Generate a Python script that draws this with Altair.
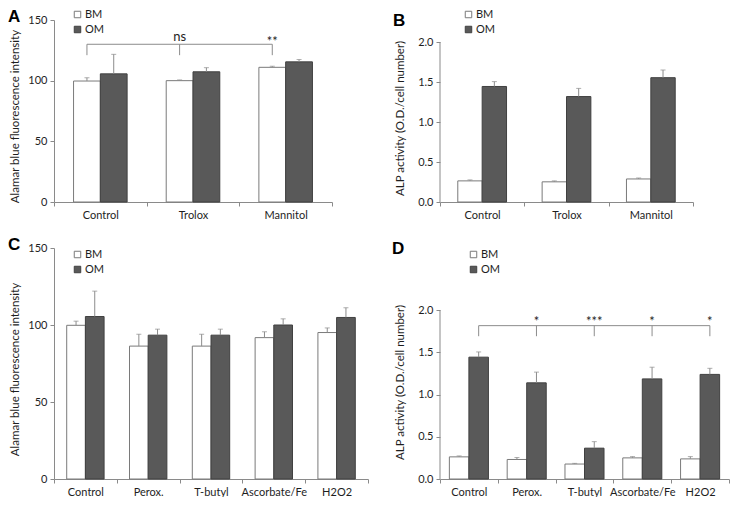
import altair as alt
import pandas as pd

# ---------------- data ----------------
cats_ab = ["Control", "Trolox", "Mannitol"]
cats_cd = ["Control", "Perox.", "T-butyl", "Ascorbate/Fe", "H2O2"]
groups = ["BM", "OM"]

a_bm = [99.7, 100.0, 111.0]
a_bm_err = [2.7, 0.6, 0.9]
a_om = [105.6, 107.3, 115.5]
a_om_err = [16.1, 3.4, 1.9]

b_bm = [0.264, 0.252, 0.288]
b_bm_err = [0.012, 0.012, 0.012]
b_om = [1.444, 1.318, 1.554]
b_om_err = [0.061, 0.102, 0.096]

c_bm = [99.8, 86.3, 86.3, 91.8, 95.1]
c_bm_err = [2.7, 7.7, 7.7, 3.8, 3.0]
c_om = [105.5, 93.4, 93.4, 100.0, 104.9]
c_om_err = [16.5, 3.9, 3.9, 4.0, 6.3]

d_bm = [0.262, 0.231, 0.177, 0.250, 0.238]
d_bm_err = [0.011, 0.023, 0.008, 0.015, 0.027]
d_om = [1.442, 1.138, 0.365, 1.185, 1.238]
d_om_err = [0.062, 0.127, 0.077, 0.138, 0.072]

a_sig_labels = ["", "ns", "**"]
a_sig_text_y = [0, 136, 132]
d_sig_labels = ["", "*", "***", "*", "*"]
d_sig_text_y = [0, 1.86, 1.86, 1.86, 1.86]

FONT = "Lato"
AX = "#8a8a8a"
ERR = "#8c8c8c"
TXT = "#1e1e1e"


def center_frac(pad, i):
    return (pad + i + 0.5) / (2 + 2 * pad)


def panel(cats, bm, bm_err, om, om_err, *, ymax, yvals, yfmt, ytitle, w, h,
          pad, title_x, title_y, leg_x, leg_y, letter, let_x, let_y,
          sig_labels=None, sig_text_y=None, sig_grp="BM", sig_level=0, sig_foot=0,
          axis_top=None):
    rows = []
    for g, vals, errs in (("BM", bm, bm_err), ("OM", om, om_err)):
        for c, v, e in zip(cats, vals, errs):
            rows.append({"cat": c, "grp": g, "val": v, "top": v + e})
    df = pd.DataFrame(rows)

    xscale = alt.Scale(domain=cats, paddingInner=0, paddingOuter=0)
    xaxis = alt.Axis(title=None, labelAngle=0, tickBand="extent")

    def X(bp=None):
        if bp is None:
            return alt.X("cat:N", scale=xscale, axis=xaxis)
        return alt.X("cat:N", scale=xscale, axis=xaxis, bandPosition=bp)

    yscale = alt.Scale(domain=[0, ymax], nice=False, zero=True)
    yaxis = alt.Axis(values=yvals, format=yfmt, title=ytitle, grid=False,
                     domain=axis_top is None, titleX=title_x, titleY=title_y,
                     titleAngle=270, titleBaseline="middle", titleAlign="center")

    def Y(f):
        return alt.Y(f + ":Q", scale=yscale, axis=yaxis)

    xo = alt.XOffset("grp:N", scale=alt.Scale(domain=groups, paddingInner=0, paddingOuter=pad))
    leg = alt.Legend(title=None, orient="none", legendX=leg_x, legendY=leg_y,
                     direction="vertical", symbolType="square", symbolSize=42,
                     symbolStrokeWidth=1, labelFont=FONT, labelFontSize=11,
                     labelColor=TXT, rowPadding=3, padding=0, labelOffset=2)

    bars = alt.Chart(df).mark_bar(strokeWidth=1).encode(
        x=X(), xOffset=xo, y=Y("val"),
        fill=alt.Fill("grp:N", scale=alt.Scale(domain=groups, range=["#ffffff", "#595959"]), legend=leg),
        stroke=alt.Stroke("grp:N", scale=alt.Scale(domain=groups, range=["#7a7a7a", "#404040"]), legend=leg),
    )
    err = alt.Chart(df).mark_rule(color=ERR, strokeWidth=1).encode(
        x=X(), xOffset=xo, y=Y("val"), y2="top:Q")
    cap = alt.Chart(df).mark_tick(color=ERR, size=5, thickness=1).encode(
        x=X(), xOffset=xo, y=Y("top"))

    layers = [bars, err, cap]

    if sig_labels is not None:
        gi = groups.index(sig_grp)
        bp = center_frac(pad, gi)
        sig = pd.DataFrame({"cat": cats, "label": sig_labels, "ty": sig_text_y,
                            "level": [sig_level] * len(cats), "foot": [sig_foot] * len(cats)})
        hline = alt.Chart(sig.iloc[[0, len(sig) - 1]]).mark_line(color=ERR, strokeWidth=1).encode(
            x=X(bp), y=Y("level"))
        feet = alt.Chart(sig).mark_rule(color=ERR, strokeWidth=1).encode(
            x=X(bp), y=Y("foot"), y2="level:Q")
        stext = alt.Chart(sig[sig["label"] != ""]).mark_text(
            baseline="middle", align="center", font=FONT, fontSize=13, color=TXT).encode(
            x=X(bp), y=Y("ty"), text="label:N")
        layers += [hline, feet, stext]

    lt = alt.Chart(pd.DataFrame({"t": [letter]})).mark_text(
        align="left", baseline="alphabetic", font="Liberation Sans", fontWeight="bold",
        fontSize=17, color="#000000").encode(
        text="t:N", x=alt.value(let_x), y=alt.value(let_y))
    layers.append(lt)

    if axis_top is not None:
        axdf = pd.DataFrame({"y0": [0.0], "y1": [axis_top]})
        axline = alt.Chart(axdf).mark_rule(color=AX, strokeWidth=1).encode(
            x=alt.value(0), y=Y("y0"), y2="y1:Q")
        layers.append(axline)
    return alt.layer(*layers).properties(width=w, height=h)


A = panel(cats_ab, a_bm, a_bm_err, a_om, a_om_err, ymax=150, yvals=[0, 50, 100, 150], yfmt="d",
          ytitle="Alamar blue fluorescence intensity", w=278, h=182, pad=0.73,
          title_x=-39, title_y=96, leg_x=18, leg_y=-11, letter="A", let_x=-46, let_y=2,
          sig_labels=a_sig_labels, sig_text_y=a_sig_text_y, sig_grp="BM",
          sig_level=130, sig_foot=121)

B = panel(cats_ab, b_bm, b_bm_err, b_om, b_om_err, ymax=2.275, yvals=[0, 0.5, 1.0, 1.5, 2.0], yfmt=".1f",
          ytitle="ALP activity (O.D./cell number)", w=253, h=182, pad=0.73,
          title_x=-40, title_y=98, leg_x=23, leg_y=-11, letter="B", let_x=-47, let_y=6,
          axis_top=2.0)

C = panel(cats_cd, c_bm, c_bm_err, c_om, c_om_err, ymax=150, yvals=[0, 50, 100, 150], yfmt="d",
          ytitle="Alamar blue fluorescence intensity", w=314, h=231, pad=0.68,
          title_x=-39, title_y=121, leg_x=18, leg_y=1, letter="C", let_x=-46, let_y=2)

D = panel(cats_cd, d_bm, d_bm_err, d_om, d_om_err, ymax=2.734, yvals=[0, 0.5, 1.0, 1.5, 2.0], yfmt=".1f",
          ytitle="ALP activity (O.D./cell number)", w=289, h=231, pad=0.48,
          title_x=-40, title_y=134, leg_x=28, leg_y=1, letter="D", let_x=-48, let_y=6,
          sig_labels=d_sig_labels, sig_text_y=d_sig_text_y, sig_grp="OM",
          sig_level=1.815, sig_foot=1.69, axis_top=2.0)

chart = alt.concat(A, B, C, D, columns=2, spacing={"row": 46, "column": 72}, bounds="flush").resolve_scale(
    x="independent", y="independent", xOffset="independent", fill="independent", stroke="independent"
).resolve_legend(fill="independent", stroke="independent").properties(padding=0).configure_view(
    stroke=None
).configure_axis(
    domainColor=AX, tickColor=AX, domainWidth=1, tickWidth=1, tickSize=4,
    labelFont=FONT, labelFontSize=11, labelColor=TXT, labelPadding=3,
    titleFont=FONT, titleFontSize=11.5, titleFontWeight="normal", titleColor=TXT,
)

chart.save("out.html", embed_options={"renderer": "svg", "actions": False})
